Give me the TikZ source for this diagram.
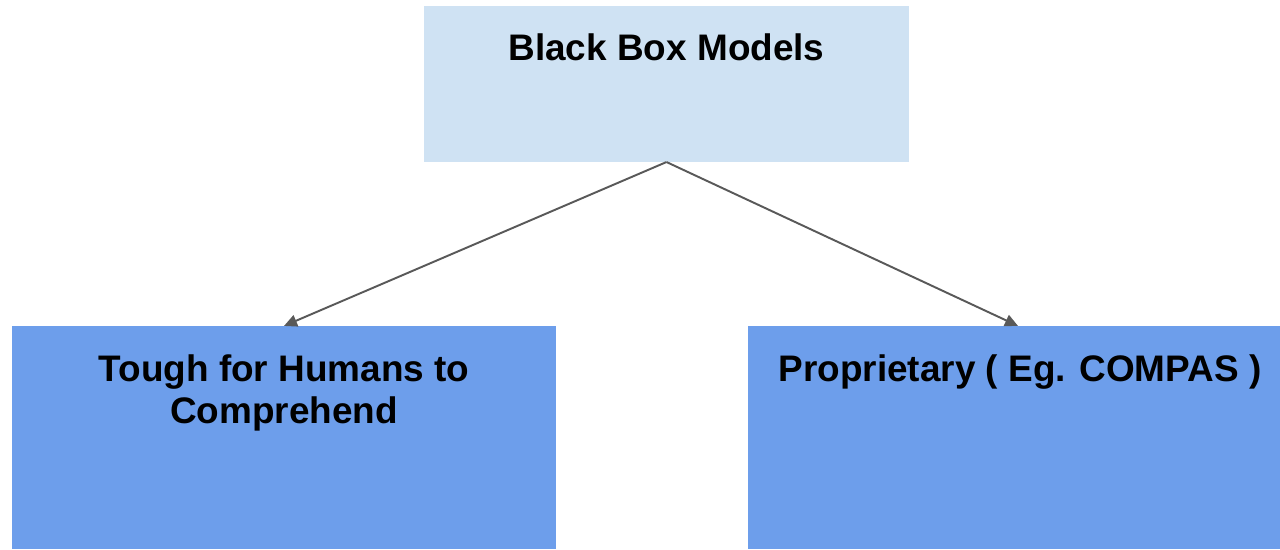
\documentclass[tikz,border=0pt]{standalone}
\usepackage{fontspec}
\setmainfont{Liberation Sans}
\usetikzlibrary{arrows.meta,positioning}
\definecolor{paleblue}{HTML}{CFE2F3}
\definecolor{midblue}{HTML}{6D9EEB}
\definecolor{linegray}{HTML}{595959}
\tikzset{
  box/.style={fill=#1,draw=none,inner sep=0pt,outer sep=0pt},
  caption/.style={inner sep=0pt,align=center,font=\bfseries\fontsize{10.5}{12}\selectfont},
  link/.style={linegray,line width=0.55pt,-{Triangle[length=0.13cm,width=0.12cm]}}
}

\begin{document}
\begin{tikzpicture}[x=0.01cm,y=-0.01cm]
  \useasboundingbox (0,0) rectangle (1280,549);
  \node[box=paleblue,minimum width=4.85cm,minimum height=1.56cm] (top) at (666.5,84) {};
  \node[box=midblue,minimum width=5.44cm,minimum height=2.23cm] (left) at (284,437.5) {};
  \node[box=midblue,minimum width=5.32cm,minimum height=2.23cm] (right) at (1014,437.5) {};
  % captions sit near the top edge of each box
  \node[caption,below=0.27cm of top.north] (toptext) {Black Box Models};
  \node[caption,below=0.28cm of left.north] (lefttext) {Tough for Humans to\\Comprehend};
  \node[caption,below=0.28cm of right.north,xshift=0.06cm] (righttext) {Proprietary ( Eg. COMPAS )};
  \draw[link] (top.south) -- (left.north);
  \draw[link] (top.south) -- ([xshift=0.04cm]right.north);
\end{tikzpicture}
\end{document}
